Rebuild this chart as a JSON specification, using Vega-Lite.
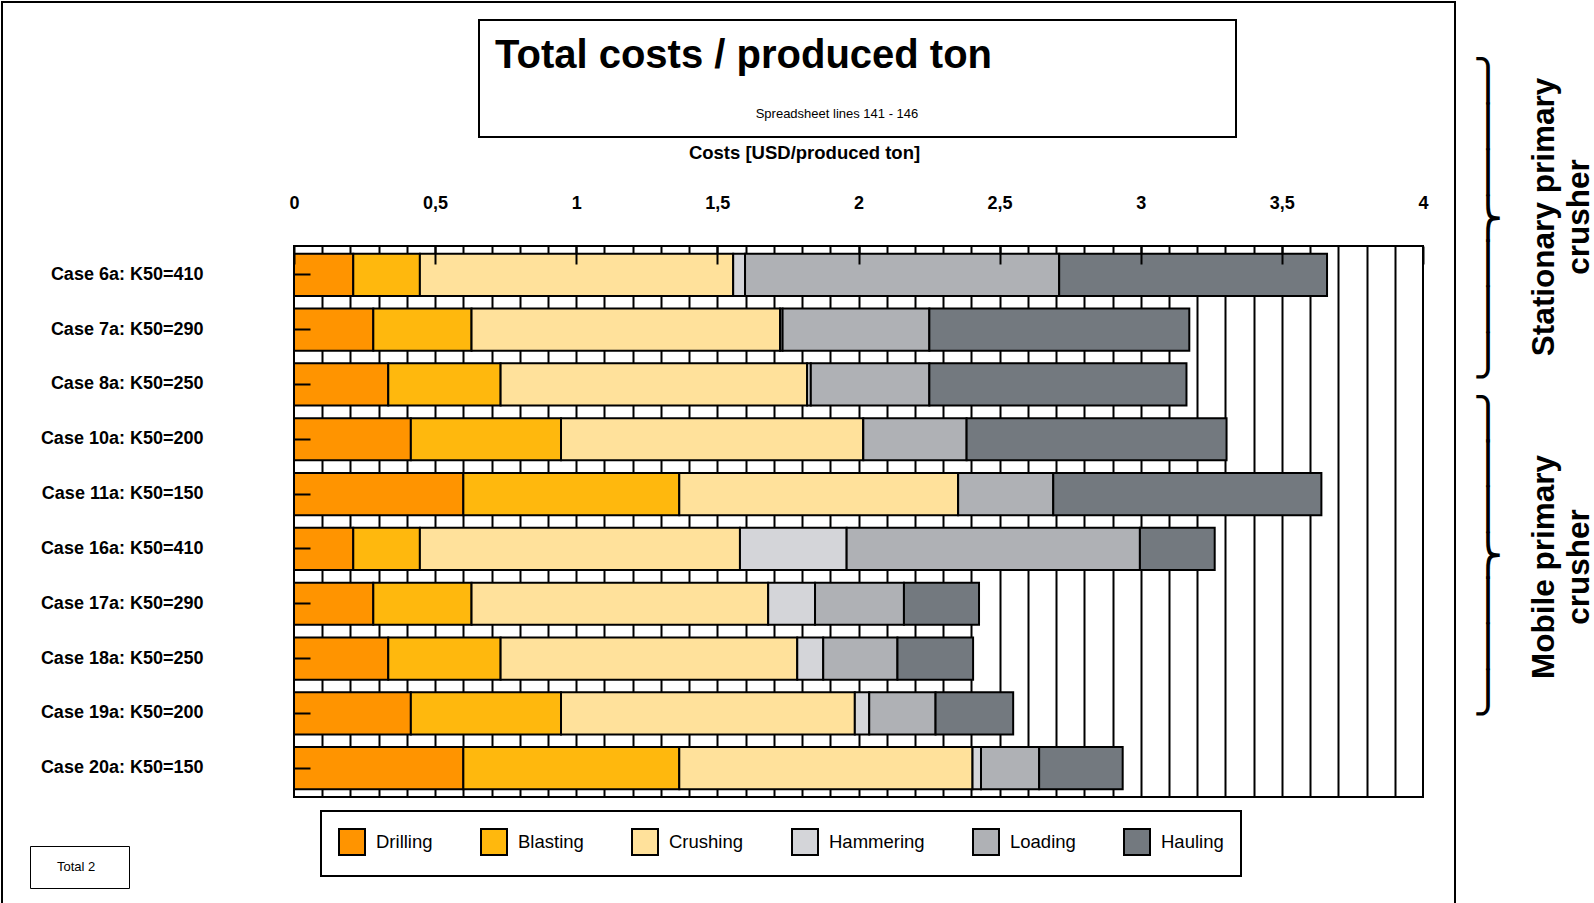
{
  "$schema": "https://vega.github.io/schema/vega-lite/v6.json",
  "width": 1129,
  "height": 551,
  "autosize": {"type": "none"},
  "padding": {"left": 294, "top": 246, "right": 171, "bottom": 106},
  "background": "white",
  "config": {"font": "Liberation Sans", "view": {"stroke": "black", "strokeWidth": 2}},
  "data": {"values": [
    {"case": "Case 6a: K50=410", "group": "Stationary primary crusher", "component": "Drilling", "k": 1, "cost": 0.210},
    {"case": "Case 6a: K50=410", "group": "Stationary primary crusher", "component": "Blasting", "k": 2, "cost": 0.236},
    {"case": "Case 6a: K50=410", "group": "Stationary primary crusher", "component": "Crushing", "k": 3, "cost": 1.110},
    {"case": "Case 6a: K50=410", "group": "Stationary primary crusher", "component": "Hammering", "k": 4, "cost": 0.042},
    {"case": "Case 6a: K50=410", "group": "Stationary primary crusher", "component": "Loading", "k": 5, "cost": 1.113},
    {"case": "Case 6a: K50=410", "group": "Stationary primary crusher", "component": "Hauling", "k": 6, "cost": 0.949},
    {"case": "Case 7a: K50=290", "group": "Stationary primary crusher", "component": "Drilling", "k": 1, "cost": 0.281},
    {"case": "Case 7a: K50=290", "group": "Stationary primary crusher", "component": "Blasting", "k": 2, "cost": 0.348},
    {"case": "Case 7a: K50=290", "group": "Stationary primary crusher", "component": "Crushing", "k": 3, "cost": 1.093},
    {"case": "Case 7a: K50=290", "group": "Stationary primary crusher", "component": "Hammering", "k": 4, "cost": 0.009},
    {"case": "Case 7a: K50=290", "group": "Stationary primary crusher", "component": "Loading", "k": 5, "cost": 0.520},
    {"case": "Case 7a: K50=290", "group": "Stationary primary crusher", "component": "Hauling", "k": 6, "cost": 0.921},
    {"case": "Case 8a: K50=250", "group": "Stationary primary crusher", "component": "Drilling", "k": 1, "cost": 0.334},
    {"case": "Case 8a: K50=250", "group": "Stationary primary crusher", "component": "Blasting", "k": 2, "cost": 0.398},
    {"case": "Case 8a: K50=250", "group": "Stationary primary crusher", "component": "Crushing", "k": 3, "cost": 1.086},
    {"case": "Case 8a: K50=250", "group": "Stationary primary crusher", "component": "Hammering", "k": 4, "cost": 0.013},
    {"case": "Case 8a: K50=250", "group": "Stationary primary crusher", "component": "Loading", "k": 5, "cost": 0.420},
    {"case": "Case 8a: K50=250", "group": "Stationary primary crusher", "component": "Hauling", "k": 6, "cost": 0.911},
    {"case": "Case 10a: K50=200", "group": "Stationary primary crusher", "component": "Drilling", "k": 1, "cost": 0.414},
    {"case": "Case 10a: K50=200", "group": "Stationary primary crusher", "component": "Blasting", "k": 2, "cost": 0.532},
    {"case": "Case 10a: K50=200", "group": "Stationary primary crusher", "component": "Crushing", "k": 3, "cost": 1.071},
    {"case": "Case 10a: K50=200", "group": "Stationary primary crusher", "component": "Hammering", "k": 4, "cost": 0.0},
    {"case": "Case 10a: K50=200", "group": "Stationary primary crusher", "component": "Loading", "k": 5, "cost": 0.366},
    {"case": "Case 10a: K50=200", "group": "Stationary primary crusher", "component": "Hauling", "k": 6, "cost": 0.921},
    {"case": "Case 11a: K50=150", "group": "Stationary primary crusher", "component": "Drilling", "k": 1, "cost": 0.600},
    {"case": "Case 11a: K50=150", "group": "Stationary primary crusher", "component": "Blasting", "k": 2, "cost": 0.765},
    {"case": "Case 11a: K50=150", "group": "Stationary primary crusher", "component": "Crushing", "k": 3, "cost": 0.988},
    {"case": "Case 11a: K50=150", "group": "Stationary primary crusher", "component": "Hammering", "k": 4, "cost": 0.0},
    {"case": "Case 11a: K50=150", "group": "Stationary primary crusher", "component": "Loading", "k": 5, "cost": 0.337},
    {"case": "Case 11a: K50=150", "group": "Stationary primary crusher", "component": "Hauling", "k": 6, "cost": 0.950},
    {"case": "Case 16a: K50=410", "group": "Mobile primary crusher", "component": "Drilling", "k": 1, "cost": 0.210},
    {"case": "Case 16a: K50=410", "group": "Mobile primary crusher", "component": "Blasting", "k": 2, "cost": 0.236},
    {"case": "Case 16a: K50=410", "group": "Mobile primary crusher", "component": "Crushing", "k": 3, "cost": 1.134},
    {"case": "Case 16a: K50=410", "group": "Mobile primary crusher", "component": "Hammering", "k": 4, "cost": 0.378},
    {"case": "Case 16a: K50=410", "group": "Mobile primary crusher", "component": "Loading", "k": 5, "cost": 1.039},
    {"case": "Case 16a: K50=410", "group": "Mobile primary crusher", "component": "Hauling", "k": 6, "cost": 0.265},
    {"case": "Case 17a: K50=290", "group": "Mobile primary crusher", "component": "Drilling", "k": 1, "cost": 0.281},
    {"case": "Case 17a: K50=290", "group": "Mobile primary crusher", "component": "Blasting", "k": 2, "cost": 0.348},
    {"case": "Case 17a: K50=290", "group": "Mobile primary crusher", "component": "Crushing", "k": 3, "cost": 1.051},
    {"case": "Case 17a: K50=290", "group": "Mobile primary crusher", "component": "Hammering", "k": 4, "cost": 0.166},
    {"case": "Case 17a: K50=290", "group": "Mobile primary crusher", "component": "Loading", "k": 5, "cost": 0.315},
    {"case": "Case 17a: K50=290", "group": "Mobile primary crusher", "component": "Hauling", "k": 6, "cost": 0.266},
    {"case": "Case 18a: K50=250", "group": "Mobile primary crusher", "component": "Drilling", "k": 1, "cost": 0.334},
    {"case": "Case 18a: K50=250", "group": "Mobile primary crusher", "component": "Blasting", "k": 2, "cost": 0.398},
    {"case": "Case 18a: K50=250", "group": "Mobile primary crusher", "component": "Crushing", "k": 3, "cost": 1.051},
    {"case": "Case 18a: K50=250", "group": "Mobile primary crusher", "component": "Hammering", "k": 4, "cost": 0.092},
    {"case": "Case 18a: K50=250", "group": "Mobile primary crusher", "component": "Loading", "k": 5, "cost": 0.263},
    {"case": "Case 18a: K50=250", "group": "Mobile primary crusher", "component": "Hauling", "k": 6, "cost": 0.268},
    {"case": "Case 19a: K50=200", "group": "Mobile primary crusher", "component": "Drilling", "k": 1, "cost": 0.414},
    {"case": "Case 19a: K50=200", "group": "Mobile primary crusher", "component": "Blasting", "k": 2, "cost": 0.532},
    {"case": "Case 19a: K50=200", "group": "Mobile primary crusher", "component": "Crushing", "k": 3, "cost": 1.041},
    {"case": "Case 19a: K50=200", "group": "Mobile primary crusher", "component": "Hammering", "k": 4, "cost": 0.051},
    {"case": "Case 19a: K50=200", "group": "Mobile primary crusher", "component": "Loading", "k": 5, "cost": 0.235},
    {"case": "Case 19a: K50=200", "group": "Mobile primary crusher", "component": "Hauling", "k": 6, "cost": 0.275},
    {"case": "Case 20a: K50=150", "group": "Mobile primary crusher", "component": "Drilling", "k": 1, "cost": 0.600},
    {"case": "Case 20a: K50=150", "group": "Mobile primary crusher", "component": "Blasting", "k": 2, "cost": 0.765},
    {"case": "Case 20a: K50=150", "group": "Mobile primary crusher", "component": "Crushing", "k": 3, "cost": 1.039},
    {"case": "Case 20a: K50=150", "group": "Mobile primary crusher", "component": "Hammering", "k": 4, "cost": 0.030},
    {"case": "Case 20a: K50=150", "group": "Mobile primary crusher", "component": "Loading", "k": 5, "cost": 0.206},
    {"case": "Case 20a: K50=150", "group": "Mobile primary crusher", "component": "Hauling", "k": 6, "cost": 0.296}
  ]},
  "resolve": {"scale": {"x": "independent", "y": "independent"}},
  "layer": [
    {
      "mark": {"type": "bar", "stroke": "black", "strokeWidth": 2},
      "encoding": {
        "y": {"field": "case", "type": "nominal", "sort": null,
              "scale": {"paddingInner": 0.23, "paddingOuter": 0.14},
              "axis": {"orient": "left", "title": null, "domain": false, "grid": false, "ticks": true, "tickSize": -16, "tickWidth": 2, "tickColor": "black",
                       "labelFontSize": 18, "labelFontWeight": "bold", "labelColor": "black", "labelPadding": 107, "labelLimit": 300, "zindex": 1}},
        "x": {"field": "cost", "type": "quantitative", "stack": "zero",
              "scale": {"domain": [0, 4], "nice": false},
              "axis": {"orient": "bottom", "title": null, "labels": false, "ticks": false, "domain": false, "grid": true, "gridColor": "black", "gridWidth": 2, "gridOpacity": 1,
                       "values": [0.1, 0.2, 0.3, 0.4, 0.5, 0.6, 0.7, 0.8, 0.9, 1.0, 1.1, 1.2, 1.3, 1.4, 1.5, 1.6, 1.7, 1.8, 1.9, 2.0, 2.1, 2.2, 2.3, 2.4, 2.5, 2.6, 2.7, 2.8, 2.9, 3.0, 3.1, 3.2, 3.3, 3.4, 3.5, 3.6, 3.7, 3.8, 3.9],
                       "zindex": 0}},
        "color": {"field": "component", "type": "nominal",
                  "scale": {"domain": ["Drilling", "Blasting", "Crushing", "Hammering", "Loading", "Hauling"],
                            "range": ["#FF9400", "#FFB80D", "#FFE19B", "#D4D5D9", "#AFB1B5", "#73797F"]},
                  "legend": {"orient": "none", "legendX": 27, "legendY": 565, "direction": "horizontal", "title": null, "padding": 17,
                             "strokeColor": "black", "symbolType": "square", "symbolSize": 676, "symbolStrokeColor": "black", "symbolStrokeWidth": 2, "symbolOpacity": 1,
                             "labelFontSize": 18.5, "labelColor": "black", "labelOffset": 10, "columnPadding": 44, "labelLimit": 300,
                             "encode": {"legend": {"update": {"strokeWidth": {"value": 2}}}}}},
        "order": {"field": "k", "type": "quantitative"}
      }
    },
    {
      "mark": {"type": "point", "opacity": 0},
      "encoding": {
        "x": {"field": "cost", "type": "quantitative", "scale": {"domain": [0, 4], "nice": false},
              "axis": {"orient": "top", "values": [0, 0.5, 1, 1.5, 2, 2.5, 3, 3.5, 4], "labelExpr": "replace(format(datum.value, '~g'), '.', ',')",
                       "labelFontSize": 18, "labelFontWeight": "bold", "labelColor": "black", "labelFlush": false, "labelOverlap": false,
                       "tickSize": -18, "tickWidth": 2, "tickColor": "black", "labelPadding": 52, "domain": false, "grid": false,
                       "title": "Costs [USD/produced ton]", "titleFontSize": 18.5, "titleFontWeight": "bold", "titleColor": "black",
                       "titleX": 510, "titleY": -94, "titleBaseline": "middle", "titleAlign": "center", "zindex": 1}}
      }
    },
    {
      "mark": {"type": "point", "opacity": 0},
      "encoding": {
        "y": {"field": "group", "type": "nominal", "sort": null, "scale": {"padding": 0.287},
              "axis": {"orient": "right", "title": null, "domain": false, "ticks": false, "grid": false,
                       "labelAngle": -90, "labelAlign": "center", "labelBaseline": "top", "labelFontSize": 31.5, "labelFontWeight": "bold", "labelColor": "black",
                       "labelPadding": 105, "labelOffset": -130, "labelLimit": 500, "labelLineHeight": 35,
                       "labelExpr": "split(replace(datum.label, ' crusher', '|crusher'), '|')"}}
      }
    },
    {
      "mark": {"type": "point", "opacity": 0},
      "encoding": {
        "y": {"field": "group", "type": "nominal", "sort": null, "scale": {"padding": 0.3175},
              "axis": {"orient": "right", "title": null, "domain": false, "ticks": false, "grid": false,
                       "labelAngle": 0, "labelAlign": "left", "labelBaseline": "middle", "labelFont": "DejaVu Sans", "labelFontSize": 40, "labelFontWeight": 200, "labelColor": "black",
                       "labelPadding": 49, "labelOffset": -271, "labelLimit": 500, "labelLineHeight": 45.7,
                       "labelExpr": "['⎫', '⎪', '⎪', '⎬', '⎪', '⎪', '⎭']"}}
      }
    },
    {
      "mark": {"type": "point", "opacity": 0},
      "encoding": {
        "fill": {"datum": 0.5, "type": "quantitative", "scale": {"domain": [0, 1], "range": ["white", "white"]},
                 "legend": {"orient": "none", "legendX": 185, "legendY": -226, "direction": "horizontal",
                            "title": "Total costs / produced ton", "titleFontSize": 40, "titleFontWeight": "bold", "titleColor": "black", "titleLimit": 1000, "titlePadding": 10,
                            "gradientLength": 725, "gradientThickness": 1, "gradientOpacity": 0, "gradientStrokeWidth": 0,
                            "values": [0.4717], "labelExpr": "'Spreadsheet lines 141 - 146'", "labelFontSize": 13, "labelColor": "black", "labelLimit": 500, "labelOffset": 21,
                            "padding": 16, "strokeColor": "black",
                            "encode": {"legend": {"update": {"strokeWidth": {"value": 2}}}}}}
      }
    },
    {
      "mark": {"type": "point", "opacity": 0},
      "encoding": {
        "stroke": {"datum": 1, "type": "quantitative", "scale": {"domain": [0, 2], "range": ["white", "white"]},
                   "legend": {"orient": "none", "legendX": -292, "legendY": -244, "direction": "horizontal", "title": null,
                              "gradientLength": 1453, "gradientThickness": 1000, "gradientOpacity": 0, "gradientStrokeWidth": 0,
                              "values": [1], "labelExpr": "''", "labelFontSize": 1, "padding": 0, "strokeColor": "black",
                              "encode": {"legend": {"update": {"strokeWidth": {"value": 2}}}}}}
      }
    },
    {
      "mark": {"type": "point", "opacity": 0},
      "encoding": {
        "shape": {"datum": "Total 2",
                  "legend": {"orient": "none", "legendX": -264, "legendY": 600, "title": " ", "titleOrient": "right", "titlePadding": 20, "titleFontSize": 13,
                             "symbolOpacity": 0, "symbolSize": 9,
                             "labelFontSize": 13, "labelColor": "black", "labelOffset": 0, "padding": 14, "strokeColor": "black",
                             "encode": {"legend": {"update": {"strokeWidth": {"value": 2}}}}}}
      }
    }
  ]
}
